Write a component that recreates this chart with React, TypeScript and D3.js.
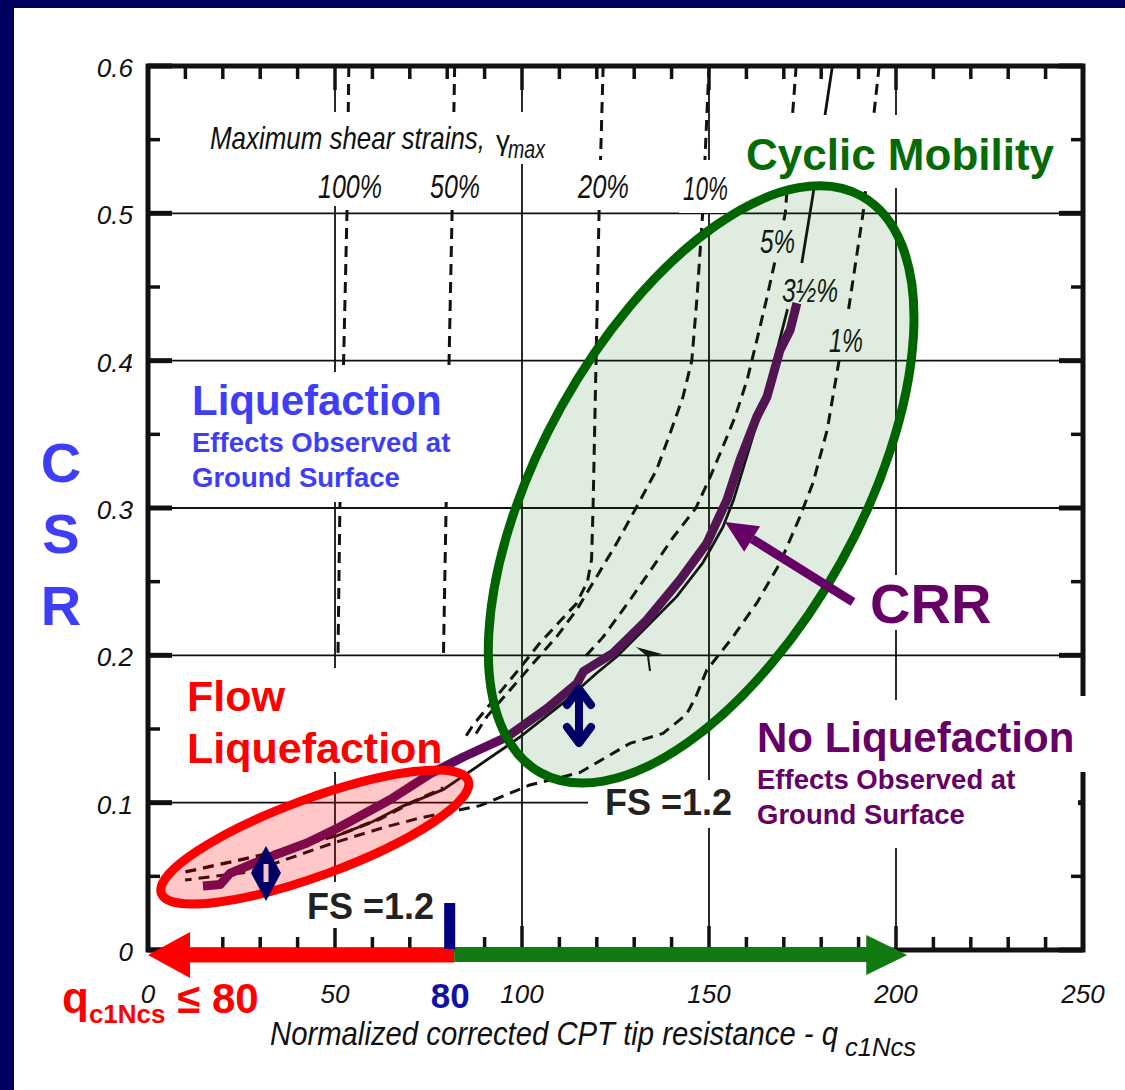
import React from 'react';
import * as d3 from 'd3';

type P = [number, number];

// ---- axes ----
const xDomain: [number, number] = [0, 250];
const yDomain: [number, number] = [0, 0.6];
const xTickValues = [0, 50, 100, 150, 200, 250];
const yTickValues = [0, 0.1, 0.2, 0.3, 0.4, 0.5, 0.6];
const xGridValues = [50, 100, 150, 200];
const yGridValues = [0.1, 0.2, 0.3, 0.4, 0.5];
const xMinorStep = 10;
const yMinorStep = 0.05;

// ---- maximum shear strain contours (q_c1Ncs, CSR) ----
const strain100: P[] = [[53.7, 0.6], [53.2, 0.5], [52.3, 0.4], [51.3, 0.3], [50.8, 0.2]];
const strain50: P[] = [[82, 0.6], [81.3, 0.5], [80.5, 0.4], [79.7, 0.3], [79, 0.2]];
const strain20: P[] = [[121.7, 0.6], [120.6, 0.5], [119.8, 0.4], [119, 0.3], [118.6, 0.265], [117.5, 0.25],
  [114.5, 0.235], [109, 0.22], [104.5, 0.2075], [99, 0.19], [93, 0.1715], [87, 0.153], [84.5, 0.143]];
const strain10: P[] = [[150, 0.6], [148.3, 0.5], [146.8, 0.443], [145.4, 0.4], [143, 0.375], [139.5, 0.35],
  [136, 0.326], [130.7, 0.301], [125.3, 0.276], [120, 0.2535], [114.6, 0.2308], [109.3, 0.2127],
  [103, 0.1946], [96.8, 0.1765], [90.6, 0.1584], [87.5, 0.146]];
const strain5: P[] = [[173.3, 0.6], [170.4, 0.5], [167.6, 0.467], [165.5, 0.443], [162.8, 0.414], [160.2, 0.387],
  [157, 0.362], [153.7, 0.3415], [150.3, 0.321], [146.5, 0.3], [140.4, 0.28], [135, 0.26], [128.9, 0.2376],
  [121.7, 0.2125], [116.5, 0.198]];
const strainConverged: P[] = [[10, 0.053], [27, 0.0625], [40, 0.07], [52, 0.079], [62, 0.089], [70, 0.0995], [79, 0.11]];
const strain1Upper: P[] = [[195.5, 0.6], [191.2, 0.5], [187.3, 0.4345]];
const strain1Lower: P[] = [[184.8, 0.4005], [181.6, 0.353], [177.8, 0.317], [174.3, 0.294], [169, 0.2627],
  [162.8, 0.2356], [156.4, 0.2125], [149.4, 0.19], [146.5, 0.172], [144, 0.16], [137.7, 0.147], [128.9, 0.1403],
  [115.5, 0.1205], [102.1, 0.112], [88.8, 0.098], [80.7, 0.0937], [72.7, 0.0896], [62.8, 0.083],
  [49.5, 0.0726], [27.3, 0.053], [9.9, 0.0475]];
const strain35Upper: P[] = [[183, 0.6], [177.7, 0.511], [174.8, 0.466]];
const strain35Lower: P[] = [[50, 0.077], [60, 0.087], [68, 0.0975], [79, 0.109], [88, 0.1245], [99.5, 0.1446],
  [111, 0.1677], [120, 0.188], [125.3, 0.199], [132.4, 0.217], [141.4, 0.24], [148.4, 0.263], [153.7, 0.287],
  [156.5, 0.305], [159.5, 0.33], [162.5, 0.355], [165.5, 0.38], [168.5, 0.41], [171, 0.435]];

// ---- highlighted CRR curve ----
const crrCurve: P[] = [[14.7, 0.0435], [19.3, 0.0445], [21.9, 0.052], [31.8, 0.0625], [42.5, 0.0726],
  [51.3, 0.0835], [64.7, 0.102], [75.4, 0.1195], [84.3, 0.131], [96, 0.1446], [106.7, 0.164], [114.7, 0.181],
  [116.4, 0.189], [124.4, 0.2016], [133.4, 0.224], [142.2, 0.251], [149.4, 0.276], [154.8, 0.3055],
  [158.3, 0.3327], [162.8, 0.362], [165.5, 0.3754], [169, 0.4073], [171.7, 0.4209], [173.5, 0.439]];

// ---- zones ----
const flowZoneCenter: P = [44.6, 0.0767];
const cyclicZoneCenter: P = [147.9, 0.316];
const boundaryQ = 80;
const flowArrowEnd = 0;
const cyclicArrowEnd = 203;

const FONT = "'Liberation Sans', Arial, Helvetica, sans-serif";
const NAVY = '#000066';
const PURPLE = '#660066';
const PURPLE_LINE = '#5e0b5e';
const BLUE = '#3d3dfa';
const GREEN = '#066b06';

export default function App() {
  const X = d3.scaleLinear().domain(xDomain).range([148, 1083]);
  const Y = d3.scaleLinear().domain(yDomain).range([950, 66]);
  const line = d3.line<P>().x(d => X(d[0])).y(d => Y(d[1]));
  const x0 = X(xDomain[0]), x1 = X(xDomain[1]), y0 = Y(yDomain[0]), y1 = Y(yDomain[1]);

  const xMinor = d3.range(xDomain[0], xDomain[1] + 0.001, xMinorStep);
  const yMinor = d3.range(yDomain[0], yDomain[1] + 0.0001, yMinorStep);
  const isMajorX = (v: number) => Math.abs(v % 50) < 1e-6;
  const isMajorY = (v: number) => Math.abs(Math.round(v * 100) % 10) < 1e-6;

  const dashed = { fill: 'none', stroke: '#111', strokeWidth: 3, strokeDasharray: '11 7' } as const;
  const solid = { fill: 'none', stroke: '#111', strokeWidth: 2.8 } as const;

  const whiteBoxes = [
    [205, 112, 345, 52], [312, 164, 76, 42], [424, 164, 62, 42], [574, 160, 60, 48], [679, 160, 53, 53],
    [735, 115, 330, 73], [756, 222, 43, 38], [779, 263, 65, 42], [825, 312, 44, 47],
    [185, 372, 285, 130], [180, 668, 272, 104], [588, 780, 152, 48], [300, 882, 142, 46],
    [712, 700, 366, 148], [1076, 696, 16, 76], [865, 575, 140, 55],
  ];

  const bx = X(boundaryQ);
  const yArrow = y0 + 5;
  const crrTip: P = [725, 522];
  const crrTail: P = [853, 602];
  const dx = crrTip[0] - crrTail[0], dy = crrTip[1] - crrTail[1];
  const len = Math.hypot(dx, dy);
  const ux = dx / len, uy = dy / len;
  const hb: P = [crrTip[0] - 32 * ux, crrTip[1] - 32 * uy];
  const px = -uy, py = ux;

  return (
    <svg width={1125} height={1090} style={{ position: 'absolute', left: 0, top: 0, background: '#fff' }} fontFamily={FONT}>
      <rect x={0} y={0} width={1125} height={1090} fill="#fff" />
      <rect x={0} y={0} width={1125} height={8} fill="#000060" />
      <rect x={0} y={0} width={14} height={1090} fill="#000060" />

      {/* grid */}
      {xGridValues.map(v => <line key={'gx' + v} x1={X(v)} x2={X(v)} y1={y1} y2={y0} stroke="#111" strokeWidth={1.8} />)}
      {yGridValues.map(v => <line key={'gy' + v} x1={x0} x2={x1} y1={Y(v)} y2={Y(v)} stroke="#111" strokeWidth={1.8} />)}

      {/* contours */}
      <path d={line(strain100)!} {...dashed} />
      <path d={line(strain50)!} {...dashed} />
      <path d={line(strain20)!} {...dashed} />
      <path d={line(strain10)!} {...dashed} />
      <path d={line(strain5)!} {...dashed} />
      <path d={line(strainConverged)!} {...dashed} stroke="#2a0000" strokeWidth={3.4} />
      <path d={line(strain1Upper)!} {...dashed} />
      <path d={line(strain1Lower)!} {...dashed} />
      <path d={line(strain35Upper)!} {...solid} />
      <path d={line(strain35Lower)!} {...solid} />
      <path d="M636,647 L662,654 L648,657 Z" fill="#111" />
      <line x1={648} y1={656} x2={650} y2={671} stroke="#111" strokeWidth={2} />

      {/* frame and ticks */}
      {xMinor.map(v => {
        const L = isMajorX(v) ? 24 : 13;
        return (
          <g key={'tx' + v}>
            <line x1={X(v)} x2={X(v)} y1={y0} y2={y0 - L} stroke="#111" strokeWidth={3.5} />
            <line x1={X(v)} x2={X(v)} y1={y1} y2={y1 + L} stroke="#111" strokeWidth={3.5} />
          </g>
        );
      })}
      {yMinor.map(v => {
        const L = isMajorY(v) ? 24 : 12;
        return (
          <g key={'ty' + v}>
            <line x1={x0} x2={x0 + L} y1={Y(v)} y2={Y(v)} stroke="#111" strokeWidth={isMajorY(v) ? 5 : 3.5} />
            <line x1={x1} x2={x1 - L} y1={Y(v)} y2={Y(v)} stroke="#111" strokeWidth={isMajorY(v) ? 5 : 3.5} />
          </g>
        );
      })}
      <rect x={x0} y={y1} width={x1 - x0} height={y0 - y1} fill="none" stroke="#111" strokeWidth={5} />

      {/* white label backgrounds */}
      {whiteBoxes.map((b, i) => <rect key={'wb' + i} x={b[0]} y={b[1]} width={b[2]} height={b[3]} fill="#fff" />)}

      {/* contour labels */}
      <g fontStyle="italic" fill="#111">
        <text x={210} y={149} fontSize={32} textLength={275} lengthAdjust="spacingAndGlyphs">Maximum shear strains,</text>
        <text x={496} y={150} fontSize={28} fontStyle="normal">γ</text>
        <text x={508} y={158} fontSize={26} textLength={37} lengthAdjust="spacingAndGlyphs">max</text>
        <text x={318} y={198} fontSize={34} textLength={64} lengthAdjust="spacingAndGlyphs">100%</text>
        <text x={430} y={198} fontSize={34} textLength={50} lengthAdjust="spacingAndGlyphs">50%</text>
        <text x={578} y={198} fontSize={34} textLength={51} lengthAdjust="spacingAndGlyphs">20%</text>
        <text x={683} y={200} fontSize={34} textLength={45} lengthAdjust="spacingAndGlyphs">10%</text>
        <text x={760} y={253} fontSize={34} textLength={35} lengthAdjust="spacingAndGlyphs">5%</text>
        <text x={782} y={302} fontSize={34} textLength={56} lengthAdjust="spacingAndGlyphs">3½%</text>
        <text x={829} y={352} fontSize={34} textLength={34} lengthAdjust="spacingAndGlyphs">1%</text>
      </g>

      {/* CRR line */}
      <path d={line(crrCurve)!} fill="none" stroke={PURPLE_LINE} strokeWidth={9} strokeLinejoin="round" />

      {/* zones */}
      <ellipse cx={X(flowZoneCenter[0])} cy={Y(flowZoneCenter[1])} rx={163.5} ry={38.5}
        transform={`rotate(-20.2 ${X(flowZoneCenter[0])} ${Y(flowZoneCenter[1])})`}
        fill="rgba(255,0,0,0.22)" stroke="#ff0000" strokeWidth={9} />
      <ellipse cx={X(cyclicZoneCenter[0])} cy={Y(cyclicZoneCenter[1])} rx={330} ry={160}
        transform={`rotate(-60.9 ${X(cyclicZoneCenter[0])} ${Y(cyclicZoneCenter[1])})`}
        fill="rgba(0,100,0,0.12)" stroke="#006400" strokeWidth={9} />

      {/* bottom arrows */}
      <rect x={X(flowArrowEnd) + 41} y={yArrow - 7.5} width={bx + 7 - X(flowArrowEnd) - 41} height={15} fill="#ff0000" />
      <polygon points={`${X(flowArrowEnd)},${yArrow} ${X(flowArrowEnd) + 42},${yArrow - 23} ${X(flowArrowEnd) + 42},${yArrow + 23}`} fill="#ff0000" />
      <rect x={bx + 7} y={yArrow - 8} width={X(cyclicArrowEnd) - 40 - bx - 7} height={15} fill="#117a11" />
      <polygon points={`${X(cyclicArrowEnd) - 41},${yArrow - 20} ${X(cyclicArrowEnd)},${yArrow} ${X(cyclicArrowEnd) - 41},${yArrow + 20}`} fill="#117a11" />
      <rect x={bx - 3} y={903} width={11} height={46} fill="#000080" />

      {/* double arrows */}
      <g stroke={NAVY} strokeWidth={8} strokeLinecap="round" strokeLinejoin="round" fill="none">
        <line x1={579} y1={690} x2={579} y2={742} />
        <polyline points="567,705 579,689 591,705" />
        <polyline points="567,727 579,743 591,727" />
      </g>
      <polygon points="266,846 281,873 266,901 251,873" fill={NAVY} />
      <rect x={263.5} y={864} width={5} height={18} fill="#f4c4c8" />

      {/* CRR pointer */}
      <line x1={crrTail[0]} y1={crrTail[1]} x2={hb[0]} y2={hb[1]} stroke={PURPLE} strokeWidth={9} />
      <polygon points={`${crrTip[0]},${crrTip[1]} ${hb[0] + 15 * px},${hb[1] + 15 * py} ${hb[0] - 15 * px},${hb[1] - 15 * py}`} fill={PURPLE} />

      {/* annotations */}
      <g fontWeight="bold">
        <text x={746} y={170} fontSize={44} fill={GREEN}>Cyclic Mobility</text>
        <text x={192} y={415} fontSize={42} fill={BLUE}>Liquefaction</text>
        <text x={192} y={452} fontSize={27.5} fill={BLUE}>Effects Observed at</text>
        <text x={192} y={487} fontSize={27.5} fill={BLUE}>Ground Surface</text>
        <text x={61} y={482} fontSize={56} fill={BLUE} textAnchor="middle">C</text>
        <text x={61} y={553} fontSize={56} fill={BLUE} textAnchor="middle">S</text>
        <text x={61} y={625} fontSize={56} fill={BLUE} textAnchor="middle">R</text>
        <text x={870} y={623} fontSize={56} fill={PURPLE}>CRR</text>
        <text x={187} y={711} fontSize={43} fill="#ff0000">Flow</text>
        <text x={187} y={763} fontSize={43} fill="#ff0000">Liquefaction</text>
        <text x={757} y={752} fontSize={42} fill={PURPLE}>No Liquefaction</text>
        <text x={757} y={789} fontSize={27.5} fill={PURPLE}>Effects Observed at</text>
        <text x={757} y={824} fontSize={27.5} fill={PURPLE}>Ground Surface</text>
        <text x={605} y={815} fontSize={36} fill="#222">FS =1.2</text>
        <text x={307} y={919} fontSize={36} fill="#222">FS =1.2</text>
        <text x={bx + 3} y={1008} fontSize={35} fill="#1010a8" textAnchor="middle">{boundaryQ}</text>
        <text x={62} y={1013} fill="#ff0000">
          <tspan fontSize={44}>q</tspan>
          <tspan fontSize={26} dy={10}>c1Ncs</tspan>
          <tspan fontSize={42} dy={-10}> ≤ {boundaryQ}</tspan>
        </text>
      </g>

      {/* tick labels */}
      <g fontStyle="italic" fill="#111" fontSize={26}>
        {xTickValues.map(v => <text key={'xl' + v} x={X(v)} y={1003} textAnchor="middle">{v}</text>)}
        {yTickValues.map(v => <text key={'yl' + v} x={133} y={Y(v) + 11} textAnchor="end">{v === 0 ? '0' : v.toFixed(1)}</text>)}
        <text x={270} y={1045} fontSize={34} textLength={568} lengthAdjust="spacingAndGlyphs">Normalized corrected CPT tip resistance - q</text>
        <text x={845} y={1056} fontSize={25} textLength={71} lengthAdjust="spacingAndGlyphs">c1Ncs</text>
      </g>
    </svg>
  );
}
